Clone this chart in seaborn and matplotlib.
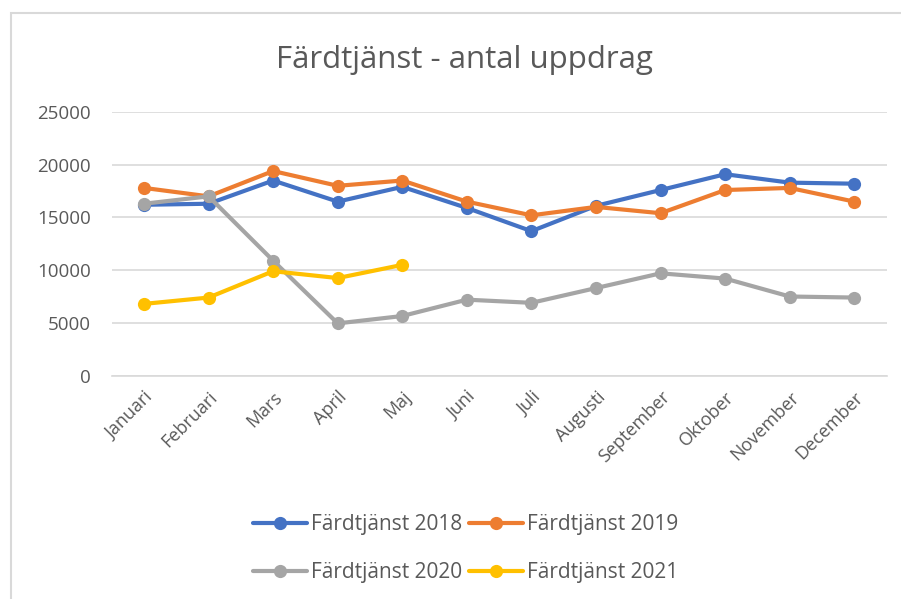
import matplotlib
matplotlib.use("Agg")
import matplotlib.pyplot as plt
import seaborn as sns
import pandas as pd
from matplotlib.patches import Rectangle
from matplotlib.lines import Line2D

months = ["Januari", "Februari", "Mars", "April", "Maj", "Juni", "Juli",
          "Augusti", "September", "Oktober", "November", "December"]
series_names = ["Färdtjänst 2018", "Färdtjänst 2019", "Färdtjänst 2020", "Färdtjänst 2021"]
v2018 = [16200, 16300, 18500, 16500, 17900, 15900, 13700, 16100, 17600, 19100, 18300, 18200]
v2019 = [17800, 17000, 19400, 18000, 18500, 16500, 15200, 16000, 15400, 17600, 17800, 16500]
v2020 = [16300, 17000, 10900, 4950, 5650, 7200, 6900, 8300, 9700, 9200, 7500, 7400]
v2021 = [6800, 7400, 9900, 9250, 10500]
colors = ["#4472C4", "#ED7D31", "#A5A5A5", "#FFC000"]

rows = []
for name, vals in zip(series_names, [v2018, v2019, v2020, v2021]):
    for m, v in zip(months, vals):
        rows.append({"Månad": m, "Antal": v, "Serie": name})
df = pd.DataFrame(rows)

sns.set_theme(style="white")
plt.rcParams["font.family"] = ["Open Sans", "DejaVu Sans"]

fig = plt.figure(figsize=(9.01, 5.99), dpi=100)
ax = fig.add_axes([0.124, 0.373, 0.860, 0.440])

sns.lineplot(data=df, x="Månad", y="Antal", hue="Serie", hue_order=series_names,
             palette=colors, marker="o", markersize=9.5, markeredgewidth=0,
             linewidth=3, sort=False, ax=ax, legend=False)

ax.set_xlim(-0.5, 11.5)
ax.set_ylim(0, 25000)
ax.set_yticks(range(0, 25001, 5000))
ax.yaxis.grid(True, color="#D9D9D9", linewidth=1.2)
ax.set_axisbelow(True)
for s in ["top", "right", "left"]:
    ax.spines[s].set_visible(False)
ax.spines["bottom"].set_color("#D9D9D9")
ax.spines["bottom"].set_linewidth(1.2)
ax.set_xlabel("")
ax.set_ylabel("")
ax.set_xticks(range(len(months)))
ax.set_xticklabels(months, rotation=45, ha="right", rotation_mode="anchor")
ax.tick_params(axis="x", colors="#595959", labelsize=13, length=0, pad=9)
ax.tick_params(axis="y", colors="#595959", labelsize=13.5, length=0, pad=15)

fig.text(0.515, 0.900, "Färdtjänst - antal uppdrag", ha="center", va="center",
         fontsize=22.5, color="#595959")

handles = [Line2D([0], [0], color=c, linewidth=3, marker="o", markersize=9.5,
                  markeredgewidth=0) for c in colors]
order = [0, 2, 1, 3]
fig.legend([handles[i] for i in order], [series_names[i] for i in order],
           loc="center", bbox_to_anchor=(0.517, 0.084),
           ncol=2, frameon=False, fontsize=15, labelcolor="#595959",
           handlelength=2.6, handletextpad=0.2, columnspacing=0.3,
           labelspacing=1.3)

fig.patches.append(Rectangle((11 / 901, -0.1), 1.2, (599 - 13) / 599 + 0.1,
                             transform=fig.transFigure, fill=False,
                             edgecolor="#D9D9D9", linewidth=1.5))

fig.savefig("out.png", dpi=100)
